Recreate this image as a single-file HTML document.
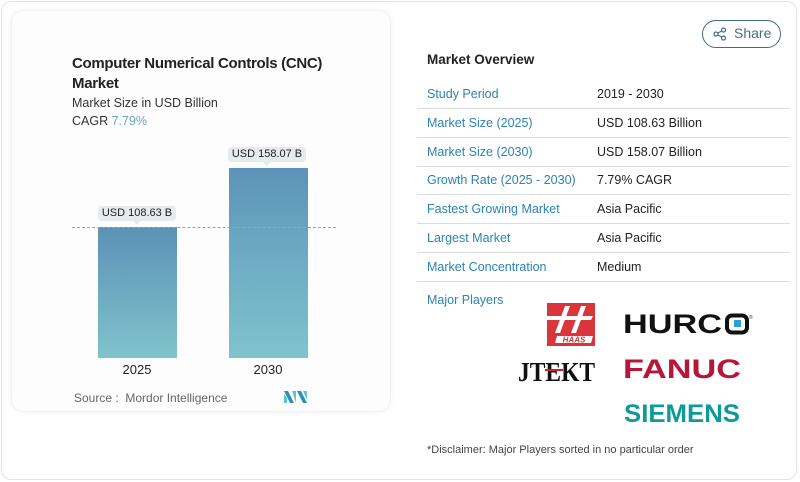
<!DOCTYPE html>
<html><head><meta charset="utf-8"><style>
*{margin:0;padding:0;box-sizing:border-box}
body{width:800px;height:482px;background:#fff;font-family:"Liberation Sans",sans-serif;position:relative;overflow:hidden}
.abs{position:absolute;white-space:nowrap}
.outer{position:absolute;left:1px;top:1px;width:796px;height:479px;border:1px solid #e3e3e3;border-radius:10px;background:#fff}
.inner{position:absolute;left:11px;top:10px;width:380px;height:402px;border-radius:12px;background:#fdfdfd;box-shadow:0 0 6px rgba(0,0,0,0.06);border:1px solid #f1f1f1}
.t{font-size:15px;font-weight:bold;color:#222;letter-spacing:-0.3px}
.st{font-size:12.5px;color:#333}
.bar{position:absolute;background:linear-gradient(#5b92b6,#80c3cc)}
.lbl{position:absolute;background:#e6ebee;border-radius:4px;font-size:11px;color:#222;text-align:center;line-height:15px;height:15px}
.lbl:after{content:"";position:absolute;left:50%;bottom:-4px;margin-left:-4px;border-left:4px solid transparent;border-right:4px solid transparent;border-top:4px solid #e6ebee}
.row{position:absolute;left:417px;width:373px;height:29px;border-bottom:1px solid #dcdcdc}
.k{position:absolute;left:10px;top:7px;font-size:12.5px;color:#2b83b3}
.v{position:absolute;left:180px;top:7px;font-size:12.5px;color:#222}
</style></head><body>
<div class="outer"></div>
<div class="inner"></div>
<div class="abs t" style="left:72px;top:55px">Computer Numerical Controls (CNC)</div>
<div class="abs t" style="left:72px;top:75px">Market</div>
<div class="abs st" style="left:72px;top:96px">Market Size in USD Billion</div>
<div class="abs st" style="left:72px;top:114px">CAGR <span style="color:#6aa8c0">7.79%</span></div>

<div class="bar" style="left:98px;top:227px;width:79px;height:131px"></div>
<div class="bar" style="left:229px;top:168px;width:79px;height:190px;background:linear-gradient(#5d93b7 0%,#6aa8c2 40%,#80c3cc 100%)"></div>
<div style="position:absolute;left:72px;top:227px;width:264px;border-top:1px dashed #9aa4aa"></div>
<div class="lbl" style="left:98px;top:206px;width:78px">USD 108.63 B</div>
<div class="lbl" style="left:228px;top:147px;width:78px">USD 158.07 B</div>
<div class="abs" style="left:117px;top:362px;width:40px;text-align:center;font-size:13px;color:#222">2025</div>
<div class="abs" style="left:248px;top:362px;width:40px;text-align:center;font-size:13px;color:#222">2030</div>
<div class="abs" style="left:74px;top:391px;font-size:12px;color:#666">Source :&nbsp; Mordor Intelligence</div>
<svg class="abs" style="left:284px;top:390px" width="24" height="14" viewBox="0 0 24 14">
<polygon points="0,1 4,1 10,13 6,13" fill="#2c8fb5"/><polygon points="0,4 3,8 3,13 0,13" fill="#5cc4cf"/>
<polygon points="8,1 12,1 12,13" fill="#5cc4cf"/><polygon points="13,1 17,1 23,13 19,13" fill="#2c8fb5"/><polygon points="19,1 23,1 23,10" fill="#5cc4cf"/>
</svg>

<div style="position:absolute;left:702px;top:20px;width:79px;height:28px;border:1.3px solid #3e6c84;border-radius:14px"></div>
<svg class="abs" style="left:713px;top:27px" width="14" height="14" viewBox="0 0 14 14" fill="none" stroke="#3e6c84" stroke-width="1.2">
<circle cx="10.5" cy="3" r="2"/><circle cx="3" cy="7" r="2"/><circle cx="10.5" cy="11" r="2"/><line x1="4.8" y1="6" x2="8.7" y2="4"/><line x1="4.8" y1="8" x2="8.7" y2="10"/></svg>
<div class="abs" style="left:734px;top:25px;font-size:14px;color:#4d6e80">Share</div>

<div class="abs" style="left:427px;top:52px;font-size:13.5px;font-weight:bold;color:#222">Market Overview</div>
<div class="row" style="top:80px"><span class="k">Study Period</span><span class="v">2019 - 2030</span></div>
<div class="row" style="top:109px"><span class="k">Market Size (2025)</span><span class="v">USD 108.63 Billion</span></div>
<div class="row" style="top:138px"><span class="k">Market Size (2030)</span><span class="v">USD 158.07 Billion</span></div>
<div class="row" style="top:166px"><span class="k">Growth Rate (2025 - 2030)</span><span class="v">7.79% CAGR</span></div>
<div class="row" style="top:195px"><span class="k">Fastest Growing Market</span><span class="v">Asia Pacific</span></div>
<div class="row" style="top:224px"><span class="k">Largest Market</span><span class="v">Asia Pacific</span></div>
<div class="row" style="top:253px"><span class="k">Market Concentration</span><span class="v">Medium</span></div>
<div class="abs" style="left:427px;top:293px;font-size:12.5px;color:#2b83b3">Major Players</div>

<svg class="abs" style="left:543px;top:303px" width="54" height="43" viewBox="0 0 54 43">
<rect x="4" y="0" width="48" height="43" fill="#d9353b"/>
<polygon points="22,3 27,3 17,30 12,30" fill="#fff"/><polygon points="38,3 43,3 33,30 28,30" fill="#fff"/>
<polygon points="0,13 50,13 48,17 0,17" fill="#fff"/>
<polygon points="14,33 50,33 48,40 12,40" fill="#fff"/>
<text x="31" y="39.5" font-family="Liberation Sans" font-style="italic" font-weight="bold" font-size="8" fill="#d9353b" text-anchor="middle">HAAS</text>
</svg>

<svg class="abs" style="left:500px;top:300px" width="300" height="130" viewBox="500 300 300 130">
<text x="623" y="333" font-family="Liberation Sans" font-weight="bold" font-size="27" fill="#111" textLength="99" lengthAdjust="spacingAndGlyphs">HURC</text>
<rect x="727" y="315.5" width="20" height="17" rx="5" fill="none" stroke="#111" stroke-width="4"/>
<rect x="734" y="320" width="7" height="7" fill="#2a9fd8"/>
<text x="749" y="319" font-family="Liberation Sans" font-size="5" fill="#333">®</text>
<text x="518" y="381" font-family="Liberation Serif" font-weight="bold" font-size="27" fill="#111" textLength="77" lengthAdjust="spacingAndGlyphs">JTEKT</text>
<rect x="545" y="369" width="18" height="2" fill="#d02030"/>
<text x="623" y="378" font-family="Liberation Sans" font-weight="bold" font-size="27" fill="#b5173a" textLength="118" lengthAdjust="spacingAndGlyphs">FANUC</text>
<text x="624" y="422" font-family="Liberation Sans" font-weight="bold" font-size="25" fill="#0e9a98" textLength="116" lengthAdjust="spacingAndGlyphs">SIEMENS</text>
</svg>
<div class="abs" style="left:427px;top:444px;font-size:11px;color:#444">*Disclaimer: Major Players sorted in no particular order</div>
</body></html>
